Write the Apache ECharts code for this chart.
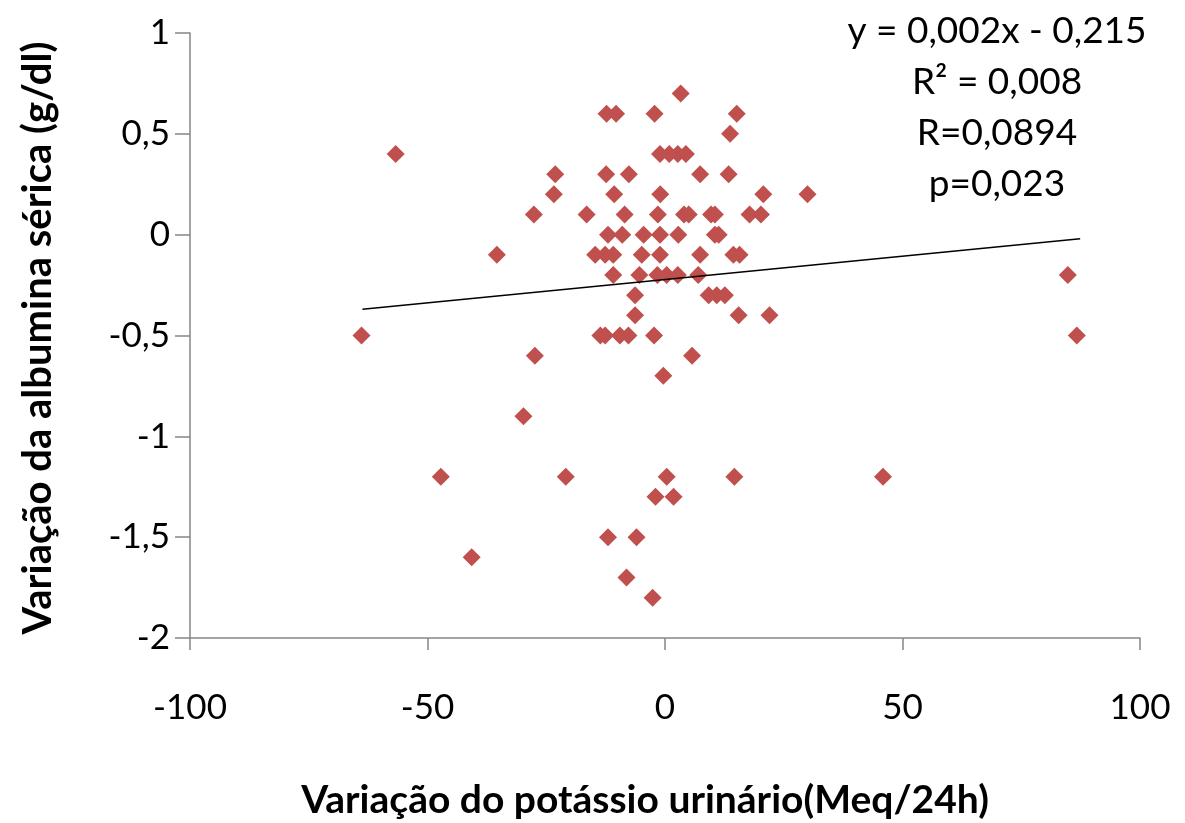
<!DOCTYPE html>
<html>
<head>
<meta charset="utf-8">
<script src="https://cdn.jsdelivr.net/npm/echarts@6/dist/echarts.min.js"></script>
<style>
  html, body { margin: 0; padding: 0; background: #fff; }
  #chart { width: 1185px; height: 823px; }
</style>
</head>
<body>
<div id="chart"></div>
<script>
// --- dados ---
const potassioX = [
  3.3,
  -12.3, -10.3, -2.2, 15.1,
  13.7,
  -56.7, -1.05, 0.9, 2.7, 4.4,
  -23.1, -12.4, -7.6, 7.4, 13.4,
  -23.4, -10.7, -1.0, 20.7, 30.0,
  -27.6, -16.5, -8.5, -1.5, 4.0, 5.0, 9.7, 10.5, 17.8, 20.2,
  -12.0, -9.0, -4.5, -1.05, 2.8, 10.5, 11.3,
  -35.4, -14.7, -12.6, -10.9, -4.9, -1.05, 7.4, 14.4, 15.7,
  -10.9, -5.4, -1.6, 0.35, 2.7, 7.0, 84.8,
  -6.3, 9.2, 10.9, 12.6,
  -6.3, 15.5, 22.0,
  -63.9, -13.6, -12.6, -9.5, -7.7, -2.3, 86.7,
  -27.4, 5.7,
  -0.35,
  -29.8,
  -47.2, -20.9, 0.35, 14.6, 45.9,
  -2.0, 1.8,
  -12.0, -6.0,
  -40.7,
  -8.1,
  -2.6
];
const albuminaY = [
  0.7,
  0.6, 0.6, 0.6, 0.6,
  0.5,
  0.4, 0.4, 0.4, 0.4, 0.4,
  0.3, 0.3, 0.3, 0.3, 0.3,
  0.2, 0.2, 0.2, 0.2, 0.2,
  0.1, 0.1, 0.1, 0.1, 0.1, 0.1, 0.1, 0.1, 0.1, 0.1,
  0, 0, 0, 0, 0, 0, 0,
  -0.1, -0.1, -0.1, -0.1, -0.1, -0.1, -0.1, -0.1, -0.1,
  -0.2, -0.2, -0.2, -0.2, -0.2, -0.2, -0.2,
  -0.3, -0.3, -0.3, -0.3,
  -0.4, -0.4, -0.4,
  -0.5, -0.5, -0.5, -0.5, -0.5, -0.5, -0.5,
  -0.6, -0.6,
  -0.7,
  -0.9,
  -1.2, -1.2, -1.2, -1.2, -1.2,
  -1.3, -1.3,
  -1.5, -1.5,
  -1.6,
  -1.7,
  -1.8
];
// linha de tendência (extremos)
const tendenciaX = [-63.7, 87.4];
const tendenciaY = [-0.37, -0.02];
const anotacoes = ['y = 0,002x - 0,215', 'R² = 0,008', 'R=0,0894', 'p=0,023'];

const FONTE = 'Lato, "Open Sans", sans-serif';

const chart = echarts.init(document.getElementById('chart'));

const option = {
  animation: false,
  backgroundColor: '#ffffff',
  grid: { left: 190, right: 45, top: 33, bottom: 185 },
  xAxis: {
    type: 'value',
    min: -100, max: 100, interval: 50,
    axisLine: { onZero: false, lineStyle: { color: '#868686', width: 1.5 } },
    axisTick: { show: true, length: 12, lineStyle: { color: '#868686', width: 1.5 } },
    axisLabel: { color: '#000', fontSize: 35, fontFamily: FONTE, margin: 52 },
    splitLine: { show: false }
  },
  yAxis: {
    type: 'value',
    min: -2, max: 1, interval: 0.5,
    axisLine: { show: true, onZero: false, lineStyle: { color: '#868686', width: 1.5 } },
    axisTick: { show: true, length: 15, lineStyle: { color: '#868686', width: 1.5 } },
    axisLabel: {
      color: '#000', fontSize: 35, fontFamily: FONTE, margin: 20,
      formatter: v => String(v).replace('.', ',')
    },
    splitLine: { show: false }
  },
  graphic: [
    {
      type: 'text', x: 645, y: 800,
      style: { text: 'Variação do potássio urinário(Meq/24h)', fontSize: 39, fontWeight: 'bold', fontFamily: FONTE, fill: '#000', align: 'center', verticalAlign: 'middle' }
    },
    {
      type: 'text', rotation: Math.PI / 2, x: 38, y: 338,
      style: { text: 'Variação da albumina sérica (g/dl)', fontSize: 40, fontWeight: 'bold', fontFamily: FONTE, fill: '#000', align: 'center', verticalAlign: 'middle' }
    },
    ...anotacoes.map((t, i) => ({
      type: 'text', x: 997, y: 31 + i * 51,
      style: { text: t, fontSize: 37, fontFamily: FONTE, fill: '#000', align: 'center', verticalAlign: 'middle' }
    }))
  ],
  series: [
    {
      type: 'scatter',
      symbol: 'diamond',
      symbolSize: 18,
      itemStyle: { color: '#C0504D', opacity: 1 },
      data: potassioX.map((x, i) => [x, albuminaY[i]]),
      z: 2
    },
    {
      type: 'line',
      showSymbol: false,
      symbol: 'none',
      lineStyle: { color: '#000', width: 1.5 },
      data: tendenciaX.map((x, i) => [x, tendenciaY[i]]),
      z: 3
    }
  ]
};

chart.setOption(option);
</script>
</body>
</html>
